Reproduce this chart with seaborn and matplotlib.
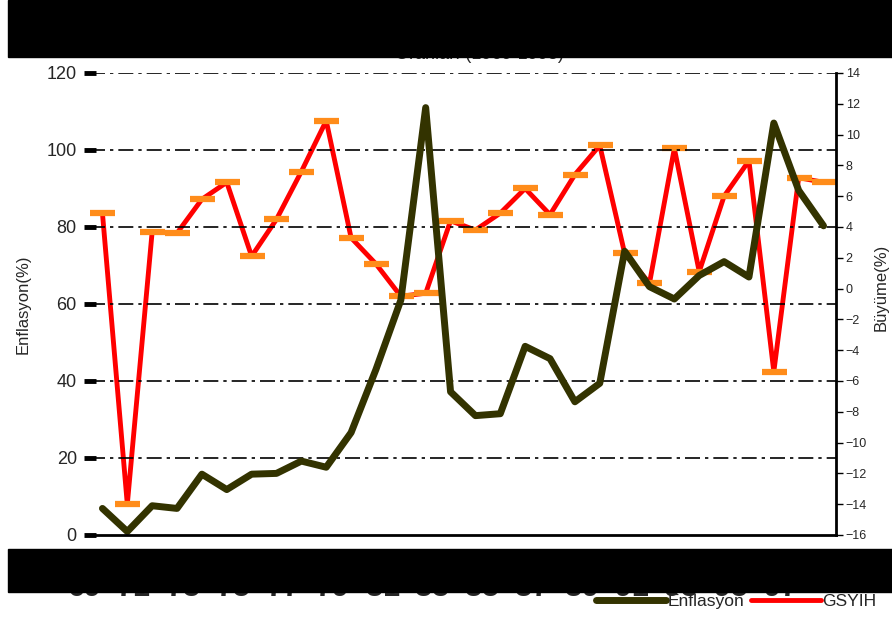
import numpy as np
import pandas as pd
import matplotlib
matplotlib.use("Agg")
import matplotlib.pyplot as plt
import matplotlib.transforms as mtransforms
from matplotlib.lines import Line2D
from matplotlib.patches import Rectangle
import seaborn as sns

# data
years = list(range(1969, 1999))
enflasyon = [6.9, 0.9, 7.6, 6.9, 15.8, 11.8, 15.8, 16.0, 19.2, 17.6,
             26.6, 43.0, 61.0, 111.0, 37.2, 31.0, 31.5, 49.0, 45.8, 34.6,
             39.4, 73.7, 64.5, 61.3, 67.4, 71.0, 67.0, 107.0, 89.5, 80.3]
gsyih = [4.9, -14.0, 3.7, 3.6, 5.8, 6.9, 2.1, 4.5, 7.6, 10.9,
         3.3, 1.6, -0.5, -0.3, 4.4, 3.8, 4.9, 6.5, 4.8, 7.4,
         9.3, 2.3, 0.35, 9.1, 1.1, 6.0, 8.3, -5.4, 7.2, 6.9]
left_ticks = [0, 20, 40, 60, 80, 100, 120]
right_ticks = list(range(-16, 15, 2))

sns.set_style("white")
plt.rcParams['font.family'] = ['Liberation Sans', 'DejaVu Sans']

df = pd.DataFrame({"x": range(len(years)), "Enflasyon": enflasyon, "GSYIH": gsyih})

fig, ax = plt.subplots(figsize=(8.92, 6.2), dpi=100)
fig.subplots_adjust(left=0.1009, right=0.9372, bottom=0.1371, top=0.8823)
ax2 = ax.twinx()

olive = "#333300"
sns.lineplot(data=df, x="x", y="GSYIH", ax=ax2, color="#ff0000", lw=3.5,
             marker="_", markersize=18, markeredgewidth=4.5,
             markeredgecolor="#ff8c1a", legend=False)
sns.lineplot(data=df, x="x", y="Enflasyon", ax=ax, color=olive, lw=5,
             legend=False)

# primary axis on top so the olive line sits above the red one
ax.set_zorder(ax2.get_zorder() + 1)
ax.patch.set_visible(False)

ax.set_xlim(-0.5, len(years) - 0.5)
ax.set_ylim(0, 120)
ax.set_yticks(left_ticks)
ax2.set_ylim(-16, 14)
ax2.set_yticks(right_ticks)

# dash-dot gridlines
for v in left_ticks[1:]:
    ax.axhline(v, color="black", lw=1.2, ls=(0, (9, 3, 2, 3)), zorder=0.5)

# x axis: ticks between categories, labels every other year
ax.set_xticks(range(0, len(years), 2))
ax.set_xticklabels([str(y)[2:] for y in years[::2]], fontsize=22,
                   fontweight="bold")
ax.set_xticks(np.arange(-0.5, len(years), 1), minor=True)
ax.tick_params(axis="x", which="major", length=0, pad=27.5)
ax.tick_params(axis="x", which="minor", length=6, width=1, direction="out",
               color="black")
offset = mtransforms.ScaledTranslation(-0.18, 0, fig.dpi_scale_trans)
for lab in ax.get_xticklabels():
    lab.set_transform(lab.get_transform() + offset)

ax.tick_params(axis="y", length=9, width=3.5, direction="inout",
               labelsize=13, pad=5, color="black")
ax2.tick_params(axis="y", length=5, width=1, direction="out",
                labelsize=9, pad=2, color="black")

for s in ["left", "top", "right"]:
    ax.spines[s].set_visible(False)
ax.spines["bottom"].set_color("black")
ax.spines["bottom"].set_linewidth(2)
for s in ["left", "top", "bottom"]:
    ax2.spines[s].set_visible(False)
ax2.spines["right"].set_color("black")
ax2.spines["right"].set_linewidth(2)

ax.set_xlabel("")
ax.set_ylabel("Enflasyon(%)", fontsize=12)
ax.yaxis.set_label_coords(-0.080, 0.5)
ax2.set_ylabel("Büyüme(%)", fontsize=12, rotation=90)
ax2.yaxis.set_label_coords(1.050, 0.535)

fig.text(0.538, 0.898, "Enflasyon ve Büyüme\nOranları (1969-1998)",
         ha="center", va="bottom", fontsize=13)

handles = [Line2D([], [], color=olive, lw=5),
           Line2D([], [], color="#ff0000", lw=3.5)]
fig.legend(handles, ["Enflasyon", "GSYIH"], loc="lower right",
           bbox_to_anchor=(1.0, -0.008), ncol=2, frameon=False, fontsize=12.5,
           handlelength=4, handletextpad=0.1, columnspacing=0.4)

# black bars over the title and the year labels
fig.add_artist(Rectangle((0.009, 0.908), 0.991, 0.092, transform=fig.transFigure,
                         color="black", zorder=10))
fig.add_artist(Rectangle((0.009, 0.045), 0.991, 0.0695, transform=fig.transFigure,
                         color="black", zorder=10))

fig.savefig("out.png", dpi=100)
